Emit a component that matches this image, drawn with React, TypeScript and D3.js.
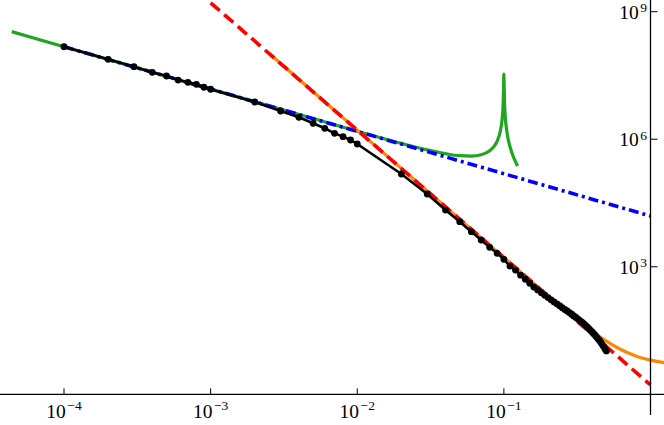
import React from "react";
import * as d3 from "d3";

const W = 664;
const H = 425;

// Black data points (x, y)
const blackX = [
  1e-4, 2e-4, 3e-4, 4e-4, 5e-4, 6e-4, 7e-4, 8e-4, 9e-4,
  1e-3, 2e-3, 3e-3, 4e-3, 5e-3, 6e-3, 7e-3, 8e-3, 9e-3,
  1e-2, 2e-2, 3e-2, 4e-2, 5e-2, 6e-2, 7e-2, 8e-2, 9e-2,
  0.1, 0.11, 0.12, 0.13, 0.14, 0.15, 0.16, 0.17, 0.18, 0.19, 0.2,
  0.21, 0.22, 0.23, 0.24, 0.25, 0.26, 0.27, 0.28, 0.29, 0.3,
  0.31, 0.32, 0.33, 0.34, 0.35, 0.36, 0.37, 0.38, 0.39, 0.4,
  0.41, 0.42, 0.43, 0.44, 0.45, 0.46, 0.47, 0.48, 0.49, 0.5,
];
const blackY = [
  1.5e8, 7.59e7, 5.08e7, 3.75e7, 3.07e7, 2.47e7, 2.18e7, 1.96e7, 1.67e7,
  1.5e7, 7.52e6, 4.61e6, 3.28e6, 2.37e6, 1.81e6, 1.38e6, 1.15e6, 9.59e5,
  7.73e5, 1.52e5, 5.15e4, 2.16e4, 1.15e4, 6.68e3, 4.26e3, 2.87e3, 2.07e3,
  1.5e3, 1.04e3, 834, 633, 509, 410, 334, 286, 245, 214, 188,
  167, 149, 134, 121, 109, 99.3, 91.0, 83.5, 76.6, 69.8,
  64.0, 58.7, 54.2, 49.9, 46.2, 42.0, 38.3, 34.9, 31.8, 29.2,
  26.6, 24.2, 21.9, 19.9, 18.2, 16.4, 14.6, 13.1, 11.7, 10.5,
];

// Green curve
const greenX = [
  4.4e-5, 1e-4, 1e-3, 5e-3, 1e-2, 2e-2, 3e-2, 4e-2, 5e-2, 6e-2, 7e-2, 8e-2,
  0.085, 0.09, 0.093, 0.095, 0.097, 0.098, 0.099, 0.0995, 0.1,
  0.1005, 0.101, 0.102, 0.105, 0.11, 0.115, 0.12, 0.124,
];
const greenY = [
  3.4e8, 1.5e8, 1.51e7, 3.08e6, 1.54e6, 7.98e5, 5.62e5, 4.58e5, 4.1e5, 4.01e5, 4.32e5, 5.36e5,
  6.54e5, 9.03e5, 1.229e6, 1.67e6, 2.69e6, 3.98e6, 7.84e6, 1.57e7, 3.42e7,
  1.55e7, 7.69e6, 3.79e6, 1.45e6, 6.76e5, 4.21e5, 2.96e5, 2.34e5,
];

// Blue dash-dot power law
const blueX = [1e-4, 1];
const blueY = [1.5e8, 1.56e4];

// Red dashed power law
const redX = [1e-3, 1];
const redY = [1.62e9, 1.66];

// Orange curve
const orangeX = [2.5e-3, 1e-2, 0.05, 0.1, 0.2, 0.3, 0.4, 0.5, 0.6, 0.7, 0.8, 0.9, 1.0, 1.1, 1.3];
const orangeY = [1.05e8, 1.64e6, 1.31e4, 1645, 209.7, 65.4, 30.3, 17.8, 12.3, 9.48, 7.9, 6.95, 6.36, 5.95, 5.45];

// Ticks
const xTickValues = [1e-4, 1e-3, 1e-2, 1e-1];
const xTickExps = ["\u22124", "\u22123", "\u22122", "\u22121"];
const yTickValues = [1e3, 1e6, 1e9];
const yTickExps = ["3", "6", "9"];

const zip = (a: number[], b: number[]) => a.map((v, i) => [v, b[i]] as [number, number]);

export default function App() {
  const x = d3.scaleLog().domain([1e-4, 1]).range([64, 650.5]);
  const y = d3.scaleLog().domain([1, 1e9]).range([394.3, 11.7]);
  const mk = (curve: any) =>
    d3
      .line<[number, number]>()
      .x((d) => x(d[0]))
      .y((d) => y(d[1]))
      .curve(curve);
  const lineLin = mk(d3.curveLinear);
  const lineSmooth = mk(d3.curveMonotoneX);

  const black = zip(blackX, blackY);
  const axisX = x(1);
  const axisY = y(1);
  const font = "'Liberation Serif', 'Times New Roman', serif";

  return (
    <svg
      width={W}
      height={H}
      style={{ position: "absolute", left: 0, top: 0, background: "#fff" }}
    >
      <defs>
        <clipPath id="plot">
          <rect x={0} y={0} width={W} height={H} />
        </clipPath>
      </defs>
      <g clipPath="url(#plot)" fill="none" strokeLinejoin="round">
        <path d={lineSmooth(zip(greenX, greenY)) || ""} stroke="#1fa51f" strokeWidth={3.2} />
        <path d={lineSmooth(zip(orangeX, orangeY)) || ""} stroke="#ff8800" strokeWidth={3.2} />
        <path
          d={lineLin(zip(blueX, blueY)) || ""}
          stroke="#0000ff"
          strokeWidth={3.6}
          strokeDasharray="10,4,3,4"
        />
        <path
          d={lineLin(zip(redX, redY)) || ""}
          stroke="#ff0000"
          strokeWidth={3.6}
          strokeDasharray="12,6"
        />
        <path d={lineLin(black) || ""} stroke="#000" strokeWidth={2.6} />
        {black.map((d, i) => (
          <circle key={i} cx={x(d[0])} cy={y(d[1])} r={3.4} fill="#000" />
        ))}
      </g>
      {/* axes */}
      <line x1={0} x2={W} y1={axisY} y2={axisY} stroke="#000" strokeWidth={1.3} />
      <line x1={axisX} x2={axisX} y1={0} y2={415} stroke="#000" strokeWidth={1.3} />
      {xTickValues.map((v, i) => (
        <g key={"xt" + i}>
          <line x1={x(v)} x2={x(v)} y1={axisY} y2={axisY - 6} stroke="#000" strokeWidth={1} />
          <text x={x(v)} y={axisY + 23.3} textAnchor="middle" fontFamily={font} fontSize={19.5}>
            10
            <tspan fontSize={13.5} dx={1.5} dy={-7.5}>
              {xTickExps[i]}
            </tspan>
          </text>
        </g>
      ))}
      {yTickValues.map((v, i) => (
        <g key={"yt" + i}>
          <line x1={axisX} x2={axisX + 7} y1={y(v)} y2={y(v)} stroke="#000" strokeWidth={1} />
          <text x={axisX - 3.5} y={y(v) + 6.8} textAnchor="end" fontFamily={font} fontSize={19.5}>
            10
            <tspan fontSize={13.5} dx={1.5} dy={-6.5}>
              {yTickExps[i]}
            </tspan>
          </text>
        </g>
      ))}
    </svg>
  );
}
